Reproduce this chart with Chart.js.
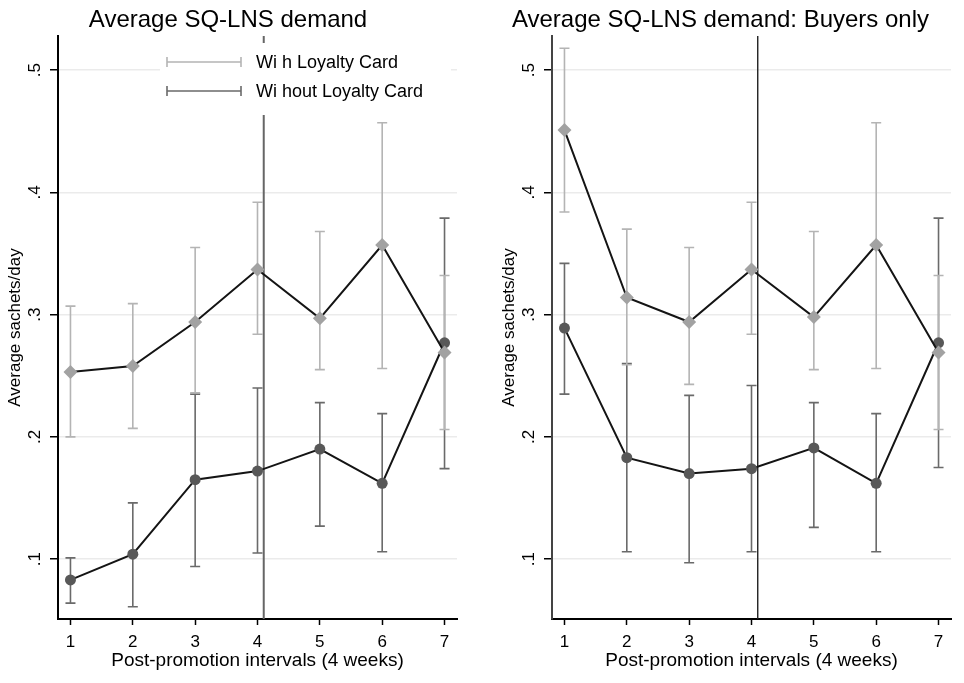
<!DOCTYPE html>
<html lang="en">
<head>
<meta charset="UTF-8">
<title>Average SQ-LNS demand</title>
<script src="https://cdn.jsdelivr.net/npm/chart.js"></script>
<style>
  body { margin: 0; background: #fff; }
  .panel { position: absolute; top: 0; width: 482px; height: 683px; }
  #left { left: 0; }
  #right { left: 482px; }
</style>
</head>
<body>
<div class="panel" id="left"><canvas id="c1" width="482" height="683"></canvas></div>
<div class="panel" id="right"><canvas id="c2" width="482" height="683"></canvas></div>
<script>
const intervals = [1, 2, 3, 4, 5, 6, 7];
const yTicks = [0.1, 0.2, 0.3, 0.4, 0.5];
const yTickLabels = ['.1', '.2', '.3', '.4', '.5'];
const legendLabels = ['Wi h Loyalty Card', 'Wi hout Loyalty Card'];

// all households
const withMean    = [0.253, 0.258, 0.294, 0.337, 0.297, 0.357, 0.269];
const withLo      = [0.200, 0.207, 0.236, 0.284, 0.255, 0.256, 0.206];
const withHi      = [0.307, 0.309, 0.355, 0.392, 0.368, 0.457, 0.332];
const withoutMean = [0.083, 0.104, 0.165, 0.172, 0.190, 0.162, 0.277];
const withoutLo   = [0.064, 0.061, 0.094, 0.105, 0.127, 0.106, 0.174];
const withoutHi   = [0.101, 0.146, 0.235, 0.240, 0.228, 0.219, 0.379];

// buyers only
const bWithMean    = [0.451, 0.314, 0.294, 0.337, 0.298, 0.357, 0.269];
const bWithLo      = [0.384, 0.259, 0.243, 0.284, 0.255, 0.256, 0.206];
const bWithHi      = [0.518, 0.370, 0.355, 0.392, 0.368, 0.457, 0.332];
const bWithoutMean = [0.289, 0.183, 0.170, 0.174, 0.191, 0.162, 0.277];
const bWithoutLo   = [0.235, 0.106, 0.097, 0.106, 0.126, 0.106, 0.175];
const bWithoutHi   = [0.342, 0.260, 0.234, 0.242, 0.228, 0.219, 0.379];

const FONT = '"Liberation Sans", Arial, sans-serif';
const LIGHT = '#b4b4b4';
const DARK = '#6a6a6a';

const errorBars = {
  id: 'errorBars',
  beforeDatasetsDraw(chart, args, opts) {
    const { ctx, scales: { x, y } } = chart;
    ctx.save();
    opts.bars.forEach(b => {
      ctx.strokeStyle = b.color;
      ctx.lineWidth = 1.6;
      intervals.forEach((v, i) => {
        const px = x.getPixelForValue(v);
        const p1 = y.getPixelForValue(b.lo[i]);
        const p2 = y.getPixelForValue(b.hi[i]);
        ctx.beginPath();
        ctx.moveTo(px, p1); ctx.lineTo(px, p2);
        ctx.moveTo(px - 5, p1); ctx.lineTo(px + 5, p1);
        ctx.moveTo(px - 5, p2); ctx.lineTo(px + 5, p2);
        ctx.stroke();
      });
    });
    // reference line
    const lx = x.getPixelForValue(opts.lineAt);
    ctx.strokeStyle = opts.lineColor;
    ctx.lineWidth = opts.lineWidth;
    ctx.beginPath();
    ctx.moveTo(lx, chart.chartArea.top);
    ctx.lineTo(lx, chart.chartArea.bottom);
    ctx.stroke();
    ctx.restore();
  }
};

const panelTitle = {
  id: 'panelTitle',
  afterDraw(chart, args, opts) {
    const ctx = chart.ctx;
    ctx.save();
    ctx.font = '24px ' + FONT;
    ctx.fillStyle = '#000';
    ctx.textAlign = 'center';
    ctx.textBaseline = 'alphabetic';
    ctx.fillText(opts.text, opts.x, 27);
    ctx.restore();
  }
};

const errLegend = {
  id: 'errLegend',
  afterDraw(chart, args, opts) {
    if (!opts.show) return;
    const ctx = chart.ctx;
    ctx.save();
    ctx.fillStyle = '#fff';
    ctx.fillRect(160, 43, 291, 72);
    [LIGHT, DARK].forEach((c, i) => {
      const ly = 62 + i * 29;
      ctx.strokeStyle = c;
      ctx.lineWidth = 1.6;
      ctx.beginPath();
      ctx.moveTo(167, ly); ctx.lineTo(241, ly);
      ctx.moveTo(167, ly - 5); ctx.lineTo(167, ly + 5);
      ctx.moveTo(241, ly - 5); ctx.lineTo(241, ly + 5);
      ctx.stroke();
      ctx.fillStyle = '#000';
      ctx.font = '18px ' + FONT;
      ctx.textAlign = 'left';
      ctx.textBaseline = 'middle';
      ctx.fillText(legendLabels[i], 256, ly + 1);
    });
    ctx.restore();
  }
};

function makeChart(id, cfg) {
  const pts = arr => intervals.map((v, i) => ({ x: v, y: arr[i] }));
  new Chart(document.getElementById(id), {
    type: 'line',
    data: {
      datasets: [
        {
          label: legendLabels[0],
          data: pts(cfg.withMean),
          borderColor: '#141414',
          borderWidth: 2,
          pointStyle: 'rectRot',
          pointRadius: 7,
          pointBackgroundColor: '#a2a2a2',
          pointBorderColor: '#a2a2a2',
          pointBorderWidth: 0,
          tension: 0
        },
        {
          label: legendLabels[1],
          data: pts(cfg.withoutMean),
          borderColor: '#141414',
          borderWidth: 2,
          pointStyle: 'circle',
          pointRadius: 5.5,
          pointBackgroundColor: '#585858',
          pointBorderColor: '#585858',
          pointBorderWidth: 0,
          tension: 0
        }
      ]
    },
    options: {
      responsive: false,
      animation: false,
      events: [],
      layout: { padding: { top: 36, right: cfg.padRight, left: 0, bottom: 0 } },
      plugins: {
        legend: { display: false },
        tooltip: { enabled: false },
        errorBars: {
          bars: [
            { lo: cfg.withoutLo, hi: cfg.withoutHi, color: DARK },
            { lo: cfg.withLo, hi: cfg.withHi, color: LIGHT }
          ],
          lineAt: 4.1,
          lineColor: cfg.lineColor,
          lineWidth: cfg.lineWidth
        },
        panelTitle: { text: cfg.title, x: cfg.titleX },
        errLegend: { show: cfg.legend }
      },
      scales: {
        x: {
          type: 'linear',
          min: 0.8,
          max: 7.2,
          afterBuildTicks: s => { s.ticks = intervals.map(v => ({ value: v })); },
          afterFit: s => { s.height = 64; },
          ticks: { font: { size: 17, family: FONT }, color: '#000', padding: 7, maxRotation: 0, autoSkip: false },
          grid: { drawOnChartArea: false, tickLength: 6, tickColor: '#000', tickWidth: 1.5 },
          border: { color: '#000', width: 2 },
          title: {
            display: true,
            text: 'Post-promotion intervals (4 weeks)',
            color: '#000',
            font: { size: 19, family: FONT },
            padding: { top: 0, bottom: 11 }
          }
        },
        y: {
          type: 'linear',
          min: 0.051,
          max: 0.528,
          afterBuildTicks: s => { s.ticks = yTicks.map(v => ({ value: v })); },
          afterFit: s => { s.width = cfg.axisWidth; },
          ticks: {
            callback: (v, i) => yTickLabels[i],
            font: { size: 17, family: FONT },
            color: '#000',
            minRotation: 90,
            maxRotation: 90,
            crossAlign: 'center',
            padding: 8
          },
          grid: { color: '#ebebeb', lineWidth: 1.5, tickLength: 8, tickColor: '#000', tickWidth: 1.5 },
          border: { color: cfg.yAxisColor, width: 2 },
          title: {
            display: true,
            text: 'Average sachets/day',
            color: '#000',
            font: { size: 17, family: FONT },
            padding: { top: cfg.yTitlePad, bottom: 0 }
          }
        }
      }
    },
    plugins: [errorBars, panelTitle, errLegend]
  });
}

makeChart('c1', {
  title: 'Average SQ-LNS demand', titleX: 228,
  withMean, withLo, withHi, withoutMean, withoutLo, withoutHi,
  padRight: 25, axisWidth: 58, yTitlePad: 5,
  lineColor: '#666', lineWidth: 2, yAxisColor: '#000', legend: true
});

makeChart('c2', {
  title: 'Average SQ-LNS demand: Buyers only', titleX: 238.5,
  withMean: bWithMean, withLo: bWithLo, withHi: bWithHi,
  withoutMean: bWithoutMean, withoutLo: bWithoutLo, withoutHi: bWithoutHi,
  padRight: 13, axisWidth: 70, yTitlePad: 17,
  lineColor: '#222', lineWidth: 1.4, yAxisColor: '#444', legend: false
});
</script>
</body>
</html>
